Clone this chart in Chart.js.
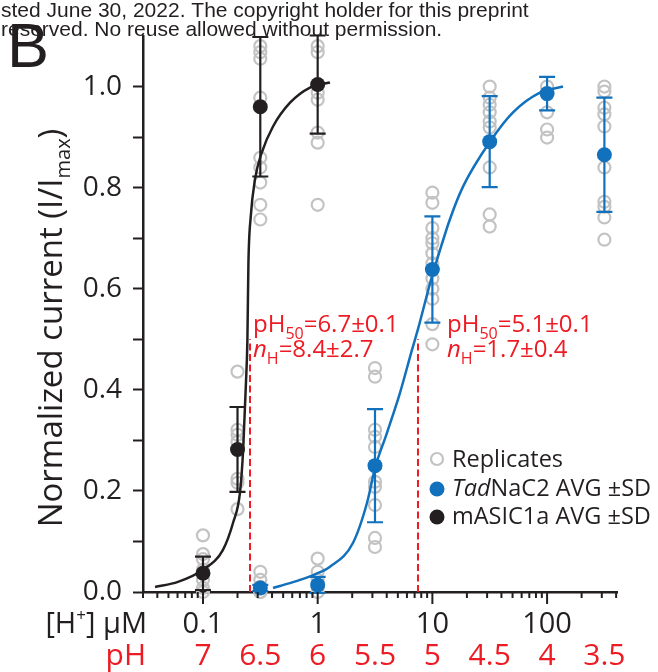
<!DOCTYPE html>
<html><head><meta charset="utf-8">
<script src="https://cdn.jsdelivr.net/npm/chart.js@4/dist/chart.umd.min.js"></script>
<style>html,body{margin:0;padding:0;background:#fff;}canvas{display:block;}</style>
</head><body>
<canvas id="c" width="658" height="672"></canvas>
<script>
// ---------- data ----------
const blackConc = [0.1, 0.2, 0.316, 1];            // [H+] µM
const blackMean = [0.037, 0.282, 0.96, 1.004];
const blackSD   = [0.033, 0.084, 0.138, 0.097];

const blueConc = [0.316, 1, 3.16, 10, 31.6, 100, 316];
const blueMean = [0.008, 0.014, 0.25, 0.638, 0.891, 0.986, 0.865];
const blueSD   = [0.006, 0.016, 0.112, 0.105, 0.09, 0.033, 0.113];

const blackRepConc = [0.1,0.1,0.1,0.1,0.1,0.1,0.1,
  0.2,0.2,0.2,0.2,0.2,0.2,0.2,
  0.316,0.316,0.316,0.316,0.316,0.316,0.316,0.316,0.316,
  1,1,1,1,1,1,1];
const blackRepVal = [0.112,0.075,0.065,0.044,0.024,0.008,0.0,
  0.436,0.321,0.311,0.297,0.224,0.216,0.164,
  1.08,1.068,1.055,0.978,0.859,0.84,0.81,0.766,0.737,
  1.08,1.068,0.988,0.974,0.909,0.889,0.766];

const blueRepConc = [0.316,0.316,0.316,0.316,0.316,
  1,1,1,1,1,
  3.16,3.16,3.16,3.16,3.16,3.16,3.16,3.16,3.16,3.16,
  10,10,10,10,10,10,10,10,10,10,10,10,
  31.6,31.6,31.6,31.6,31.6,31.6,31.6,31.6,31.6,
  100,100,100,100,
  316,316,316,316,316,316,316,316,316,316];
const blueRepVal = [0.04,0.024,0.01,0.0,0.0,
  0.066,0.04,0.024,0.01,0.0,
  0.443,0.426,0.321,0.307,0.287,0.218,0.208,0.172,0.107,0.089,
  0.79,0.77,0.72,0.70,0.69,0.67,0.65,0.62,0.60,0.58,0.53,0.49,
  1.0,0.978,0.964,0.949,0.931,0.919,0.84,0.747,0.723,
  1.0,0.949,0.915,0.899,
  1.0,0.99,0.958,0.945,0.921,0.84,0.772,0.762,0.741,0.697];

// fitted curves, sampled from the figure
const blackCurveConc = [0.0382,0.0605,0.1,0.149,0.183,0.210,0.224,0.237,0.244,0.249,0.261,0.284,0.325,0.408,0.574,0.857,1.28];
const blackCurveVal  = [0.01,0.02,0.044,0.083,0.137,0.196,0.281,0.414,0.5,0.65,0.743,0.816,0.869,0.921,0.968,0.998,1.008];
const blueCurveConc = [0.408,0.469,0.701,0.947,1.28,2.03,2.69,3.16,4.02,5.22,6.64,7.49,9.93,10.97,14.2,18.5,31.8,50.5,86.7,137.7];
const blueCurveVal  = [0.008,0.012,0.024,0.035,0.05,0.097,0.176,0.245,0.315,0.394,0.479,0.52,0.625,0.657,0.737,0.802,0.891,0.949,0.988,1.0];

// pH50 markers (µM) and dashed height
const pH50Conc = [0.257, 7.49];
const pH50Top = 0.5;

// axis ticks / labels
const xMajorTicks = [0.1, 1, 10, 100];
const xMajorLabels = ['0.1', '1', '10', '100'];
const xMinorTicks = [0.03,0.04,0.05,0.06,0.07,0.08,0.09,0.2,0.3,0.4,0.5,0.6,0.7,0.8,0.9,
  2,3,4,5,6,7,8,9,20,30,40,50,60,70,80,90,200,300,400];
const pHTickConc = [0.1, 0.316, 1, 3.16, 10, 31.6, 100, 316];
const pHLabels = ['7','6.5','6','5.5','5','4.5','4','3.5'];

// ---------- styles ----------
const BLUE = '#1271bc', BLACK = '#231f20', GRAY = '#c3c3c3', RED = '#ed1c24';
const FONT = '"Open Sans", sans-serif';

const zip = (a, b) => a.map((v, i) => ({x: v, y: b[i]}));

function drawRich(ctx, parts, x, y, align) {
  let total = 0;
  parts.forEach(p => { ctx.font = (p.it ? 'italic ' : '') + p.size + 'px ' + (p.family || FONT); p.w = ctx.measureText(p.t).width; total += p.w; });
  let cx = align === 'center' ? x - total / 2 : (align === 'right' ? x - total : x);
  ctx.textAlign = 'left'; ctx.textBaseline = 'alphabetic';
  parts.forEach(p => {
    ctx.font = (p.it ? 'italic ' : '') + p.size + 'px ' + (p.family || FONT);
    ctx.fillStyle = p.color || ctx.fillStyle;
    ctx.fillText(p.t, cx, y + (p.dy || 0));
    cx += p.w;
  });
}

const extras = {
  id: 'extras',
  beforeDatasetsDraw(chart) {
    const {ctx, scales: {x, y}} = chart;
    ctx.save();
    ctx.strokeStyle = RED; ctx.lineWidth = 2; ctx.setLineDash([7, 3.5]);
    pH50Conc.forEach(c => {
      const px = x.getPixelForValue(c);
      ctx.beginPath(); ctx.moveTo(px, y.getPixelForValue(0)); ctx.lineTo(px, y.getPixelForValue(pH50Top)); ctx.stroke();
    });
    ctx.restore();
  },
  beforeDatasetDraw(chart, args) {
    const ds = chart.data.datasets[args.index];
    if (!ds.sd) return;
    const {ctx, scales: {x, y}} = chart;
    ctx.save(); ctx.strokeStyle = ds.backgroundColor; ctx.lineWidth = 2.2;
    ds.data.forEach((p, i) => {
      const px = x.getPixelForValue(p.x);
      const yt = y.getPixelForValue(p.y + ds.sd[i]), yb = y.getPixelForValue(p.y - ds.sd[i]);
      ctx.beginPath();
      ctx.moveTo(px, yb); ctx.lineTo(px, yt);
      ctx.moveTo(px - 8, yt); ctx.lineTo(px + 8, yt);
      ctx.moveTo(px - 8, yb); ctx.lineTo(px + 8, yb);
      ctx.stroke();
    });
    ctx.restore();
  },
  afterDraw(chart) {
    const {ctx, scales: {x, y}} = chart;
    const y0 = y.getPixelForValue(0);
    ctx.save();
    // x ticks
    ctx.strokeStyle = BLACK; ctx.lineWidth = 2;
    xMinorTicks.forEach(t => { const px = x.getPixelForValue(t); ctx.beginPath(); ctx.moveTo(px, y0); ctx.lineTo(px, y0 + 6); ctx.stroke(); });
    xMajorTicks.forEach(t => { const px = x.getPixelForValue(t); ctx.beginPath(); ctx.moveTo(px, y0); ctx.lineTo(px, y0 + 12); ctx.stroke(); });
    // x labels
    ctx.fillStyle = BLACK; ctx.font = '29px ' + FONT; ctx.textAlign = 'center'; ctx.textBaseline = 'alphabetic';
    xMajorTicks.forEach((t, i) => ctx.fillText(xMajorLabels[i], x.getPixelForValue(t), 633));
    drawRich(ctx, [{t: '[H', size: 29, color: BLACK}, {t: '+', size: 17, dy: -12}, {t: '] µM', size: 29}], 147, 633, 'right');
    ctx.fillStyle = RED; ctx.font = '30px ' + FONT; ctx.textAlign = 'center';
    pHTickConc.forEach((t, i) => ctx.fillText(pHLabels[i], x.getPixelForValue(t), 665));
    ctx.textAlign = 'right'; ctx.fillText('pH', 146, 665);
    // y title
    ctx.save();
    ctx.translate(62, 328); ctx.rotate(-Math.PI / 2);
    drawRich(ctx, [{t: 'Normalized current (I/I', size: 33, color: BLACK}, {t: 'max', size: 20, dy: 8}, {t: ')', size: 33}], 0, 0, 'center');
    ctx.restore();
    // annotations
    const ann = (x0, a, b) => {
      drawRich(ctx, [{t: 'pH', size: 24, color: RED}, {t: '50', size: 16, dy: 7}, {t: a, size: 24}], x0, 332, 'left');
      drawRich(ctx, [{t: 'n', size: 24, it: true, color: RED}, {t: 'H', size: 16, dy: 7}, {t: b, size: 24}], x0, 357, 'left');
    };
    ann(253, '=6.7±0.1', '=8.4±2.7');
    ann(447, '=5.1±0.1', '=1.7±0.4');
    // legend
    ctx.lineWidth = 2.2; ctx.strokeStyle = GRAY;
    ctx.beginPath(); ctx.arc(437, 459, 6, 0, Math.PI * 2); ctx.stroke();
    ctx.fillStyle = BLUE; ctx.beginPath(); ctx.arc(437, 489, 7.5, 0, Math.PI * 2); ctx.fill();
    ctx.fillStyle = BLACK; ctx.beginPath(); ctx.arc(437, 517, 7.5, 0, Math.PI * 2); ctx.fill();
    drawRich(ctx, [{t: 'Replicates', size: 23.5, color: BLACK}], 452, 467, 'left');
    drawRich(ctx, [{t: 'Tad', size: 23.5, it: true, color: BLACK}, {t: 'NaC2 AVG ±SD', size: 23.5}], 452, 496, 'left');
    drawRich(ctx, [{t: 'mASIC1a AVG ±SD', size: 23.5, color: BLACK}], 452, 524, 'left');
    // header & panel letter
    ctx.fillStyle = BLACK; ctx.textAlign = 'left';
    ctx.font = '21px "Liberation Sans", Arial, sans-serif';
    ctx.fillText('sted June 30, 2022. The copyright holder for this preprint', 1, 17);
    ctx.font = '63px "Liberation Sans", Arial, sans-serif';
    ctx.fillText('B', 7, 67);
    ctx.font = '21px "Liberation Sans", Arial, sans-serif';
    ctx.fillText('reserved. No reuse allowed without permission.', 1, 36);
    ctx.restore();
  }
};

new Chart(document.getElementById('c'), {
  type: 'scatter',
  data: {
    datasets: [
      {label: 'mASIC1a AVG', data: zip(blackConc, blackMean), sd: blackSD, backgroundColor: BLACK, borderColor: BLACK, pointRadius: 7.5, borderWidth: 0, order: 1, clip: false},
      {label: 'TadNaC2 AVG', data: zip(blueConc, blueMean), sd: blueSD, backgroundColor: BLUE, borderColor: BLUE, pointRadius: 7.5, borderWidth: 0, order: 2, clip: false},
      {label: 'mASIC1a fit', data: zip(blackCurveConc, blackCurveVal), showLine: true, pointRadius: 0, borderColor: BLACK, borderWidth: 2.5, cubicInterpolationMode: 'monotone', order: 3, clip: false},
      {label: 'TadNaC2 fit', data: zip(blueCurveConc, blueCurveVal), showLine: true, pointRadius: 0, borderColor: BLUE, borderWidth: 2.5, cubicInterpolationMode: 'monotone', order: 4, clip: false},
      {label: 'Replicates mASIC1a', data: zip(blackRepConc, blackRepVal), pointRadius: 6, borderWidth: 2.2, borderColor: GRAY, backgroundColor: 'rgba(255,255,255,0)', order: 5, clip: false},
      {label: 'Replicates TadNaC2', data: zip(blueRepConc, blueRepVal), pointRadius: 6, borderWidth: 2.2, borderColor: GRAY, backgroundColor: 'rgba(255,255,255,0)', order: 6, clip: false}
    ]
  },
  options: {
    responsive: false, animation: false, devicePixelRatio: 1,
    layout: {padding: {left: 0, right: 41, top: 36, bottom: 0}},
    plugins: {legend: {display: false}, tooltip: {enabled: false}},
    scales: {
      x: {
        type: 'logarithmic', min: 0.030, max: 407,
        grid: {display: false}, ticks: {display: false},
        border: {display: true, color: BLACK, width: 2.5},
        afterFit(s) { s.height = 80; }
      },
      y: {
        type: 'linear', min: 0, max: 1.1,
        ticks: {stepSize: 0.1, autoSkip: false, padding: 11, color: BLACK, font: {family: 'Open Sans', size: 28},
          callback: v => { const k = Math.round(v * 10); return (k % 2 === 0 && k <= 10) ? (k / 10).toFixed(1) : ''; }},
        grid: {drawOnChartArea: false, drawTicks: true, tickLength: 10, tickWidth: 2,
          tickColor: c => (c.tick && Math.round(c.tick.value * 10) > 10) ? 'rgba(0,0,0,0)' : BLACK},
        border: {display: true, color: BLACK, width: 2.5},
        afterFit(s) { s.width = 143; }
      }
    }
  },
  plugins: [extras]
});
</script>
</body></html>
